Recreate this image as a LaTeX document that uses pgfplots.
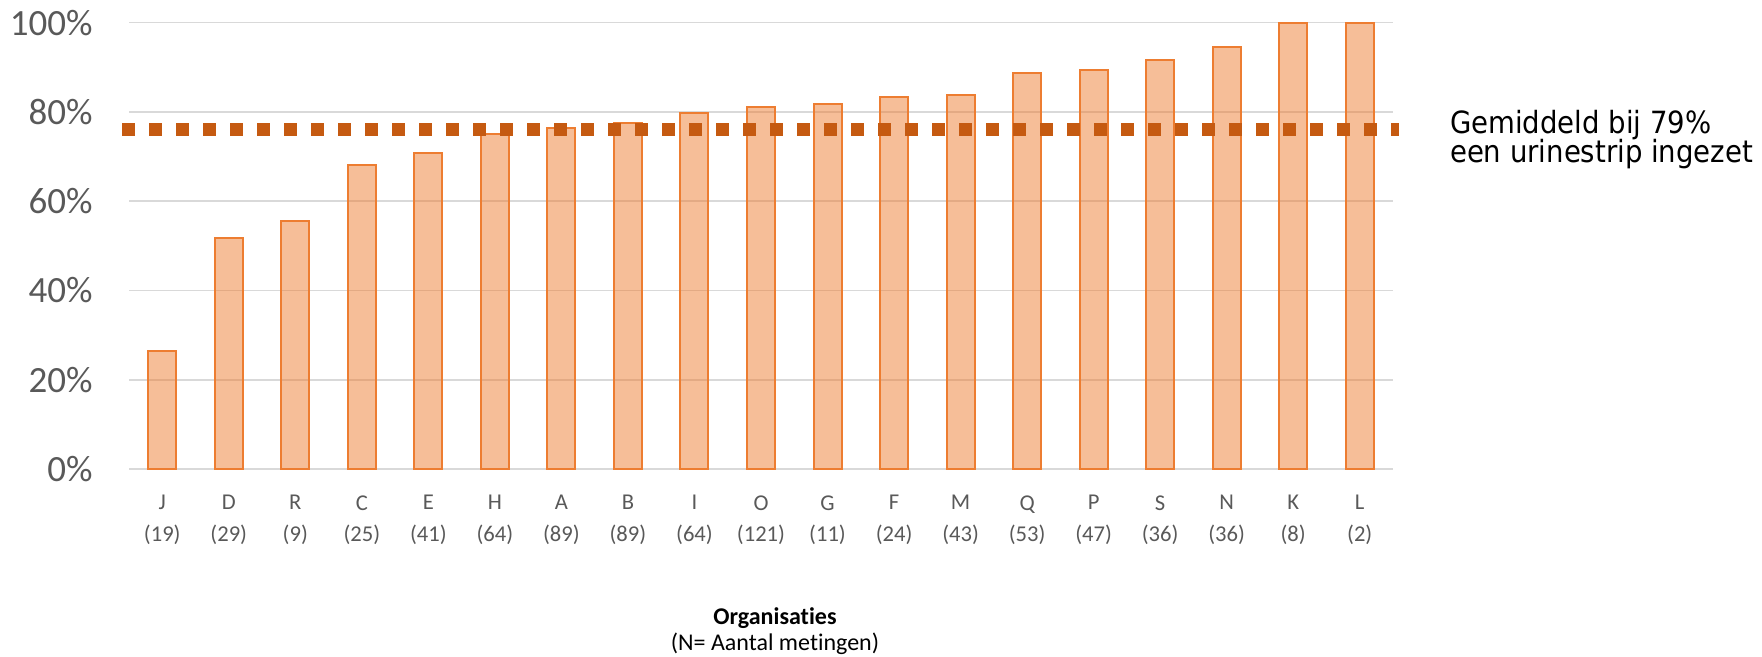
\documentclass[border=0pt]{standalone}
\usepackage{pgfplots}
\pgfplotsset{compat=1.18}
\usepackage{fontspec}
\setmainfont{Carlito}[Ligatures=NoCommon]
\newfontfamily\annfont{DejaVu Sans Condensed}
\definecolor{barorange}{HTML}{ED7D31}
\definecolor{lineorange}{HTML}{C55A11}
\definecolor{tickgray}{HTML}{595959}
\definecolor{gridgray}{HTML}{D9D9D9}
\begin{document}
\begin{tikzpicture}[x=1pt,y=1pt]
\path[use as bounding box] (0,0) rectangle (881,328.5);
\begin{axis}[
  at={(64.5pt,94pt)}, anchor=south west,
  scale only axis, width=632pt, height=223.2pt,
  xmin=-0.5, xmax=18.5, ymin=0, ymax=100,
  clip=false,
  axis x line*=bottom, axis y line*=left,
  axis line style={draw=none},
  major tick length=0pt,
  ymajorgrids,
  grid style={gridgray, line width=0.8pt},
  ytick={0,20,40,60,80,100},
  yticklabels={0\%,20\%,40\%,60\%,80\%,100\%},
  xtick={0,...,18},
  xticklabels={{J\\[1.1pt](19)},{D\\[1.1pt](29)},{R\\[1.1pt](9)},{C\\[1.1pt](25)},{E\\[1.1pt](41)},{H\\[1.1pt](64)},{A\\[1.1pt](89)},{B\\[1.1pt](89)},{I\\[1.1pt](64)},{O\\[1.1pt](121)},{G\\[1.1pt](11)},{F\\[1.1pt](24)},{M\\[1.1pt](43)},{Q\\[1.1pt](53)},{P\\[1.1pt](47)},{S\\[1.1pt](36)},{N\\[1.1pt](36)},{K\\[1.1pt](8)},{L\\[1.1pt](2)}},
  /pgf/number format/assume math mode=true,
  yticklabel style={anchor=east, inner sep=0pt, xshift=-18pt, text=tickgray, font=\fontsize{18.5}{22}\selectfont},
  xticklabel style={anchor=north, align=center, inner sep=0pt, yshift=-13pt, text=tickgray, font=\fontsize{11.3}{14.5}\selectfont},
]
\addplot[ybar, bar width=14pt, draw=barorange, line width=1pt, fill=barorange, fill opacity=0.5]
  coordinates {(0,26.32) (1,51.72) (2,55.56) (3,68.0) (4,70.73) (5,75.0) (6,76.40) (7,77.53) (8,79.69) (9,80.99) (10,81.82) (11,83.33) (12,83.72) (13,88.68) (14,89.36) (15,91.67) (16,94.44) (17,100) (18,100)};
\addplot[lineorange, line width=6.5pt, dash pattern=on 6.5pt off 7pt] coordinates {(-0.605,76) (18.59,76)};
\end{axis}
\node[anchor=base, font=\bfseries\fontsize{12}{15}\selectfont] at (387.5,16) {Organisaties};
\node[anchor=base, font=\fontsize{12}{15}\selectfont] at (387.5,3) {(N= Aantal metingen)};
\node[anchor=base west, font=\annfont\fontsize{15.3}{18}\selectfont] at (721.5,261.5) {Gemiddeld bij 79\%};
\node[anchor=base west, font=\annfont\fontsize{15.3}{18}\selectfont] at (721.5,247) {een urinestrip ingezet};
\end{tikzpicture}
\end{document}
